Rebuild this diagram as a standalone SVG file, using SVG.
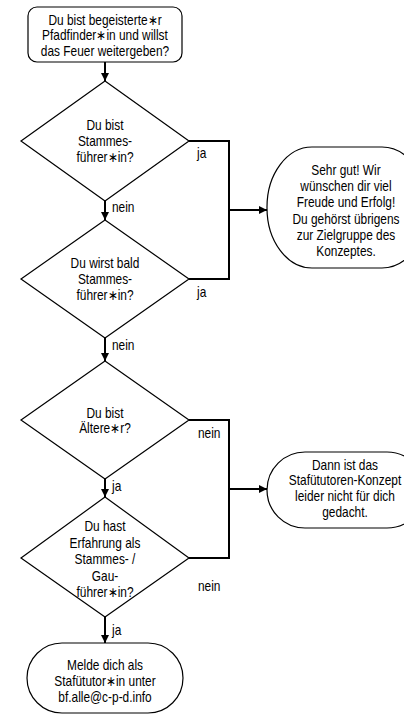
<svg xmlns="http://www.w3.org/2000/svg" width="404" height="715" viewBox="0 0 404 715">
<style>
.s{fill:#fff;stroke:#000;stroke-width:1.2}
.c{fill:none;stroke:#000;stroke-width:2}
text{font-family:"Liberation Sans",Arial,sans-serif;font-size:14px;fill:#000}
.m{text-anchor:middle}
</style>
<defs>
<marker id="ah" viewBox="0 0 10 10" refX="10" refY="5" markerWidth="4" markerHeight="4" orient="auto" markerUnits="strokeWidth">
<path d="M0,0L10,5L0,10z" fill="#000"/>
</marker>
</defs>
<rect width="404" height="715" fill="#fff"/>
<g id="connectors">
<line class="c" x1="105" y1="62" x2="105" y2="81" marker-end="url(#ah)"/>
<line class="c" x1="105" y1="201" x2="105" y2="220" marker-end="url(#ah)"/>
<line class="c" x1="105" y1="338" x2="105" y2="361" marker-end="url(#ah)"/>
<line class="c" x1="105" y1="479" x2="105" y2="497" marker-end="url(#ah)"/>
<line class="c" x1="105" y1="617" x2="105" y2="643" marker-end="url(#ah)"/>
<polyline class="c" points="189,141 229,141 229,279 189,279"/>
<line class="c" x1="229" y1="210" x2="267" y2="210" marker-end="url(#ah)"/>
<polyline class="c" points="189,420 229,420 229,558 189,558"/>
<line class="c" x1="229" y1="489" x2="267" y2="489" marker-end="url(#ah)"/>
<text x="197" y="158" transform="matrix(0.85,0,0,1,29.55,0)">ja</text>
<text x="112" y="212" transform="matrix(0.85,0,0,1,16.8,0)">nein</text>
<text x="197" y="297" transform="matrix(0.85,0,0,1,29.55,0)">ja</text>
<text x="112" y="350" transform="matrix(0.85,0,0,1,16.8,0)">nein</text>
<text x="198" y="438" transform="matrix(0.85,0,0,1,29.7,0)">nein</text>
<text x="112" y="491" transform="matrix(0.85,0,0,1,16.8,0)">ja</text>
<text x="198" y="591" transform="matrix(0.85,0,0,1,29.7,0)">nein</text>
<text x="112" y="635" transform="matrix(0.85,0,0,1,16.8,0)">ja</text>
</g>
<g id="start">
<rect class="s" x="28" y="7" width="154" height="55" rx="9"/>
<g transform="matrix(0.85,0,0,1,15.75,0)">
<text class="m" x="105" y="25">Du bist begeisterte∗r</text>
<text class="m" x="105" y="40.5">Pfadfinder∗in und willst</text>
<text class="m" x="105" y="56.5">das Feuer weitergeben?</text>
</g>
</g>
<g id="q1">
<polygon class="s" points="105,81 189,141 105,201 21,141"/>
<g transform="matrix(0.85,0,0,1,15.75,0)">
<text class="m" x="105" y="130">Du bist</text>
<text class="m" x="105" y="146">Stammes-</text>
<text class="m" x="105" y="162">führer∗in?</text>
</g>
</g>
<g id="q2">
<polygon class="s" points="105,220 189,279 105,338 21,279"/>
<g transform="matrix(0.85,0,0,1,15.75,0)">
<text class="m" x="105" y="268">Du wirst bald</text>
<text class="m" x="105" y="284">Stammes-</text>
<text class="m" x="105" y="300">führer∗in?</text>
</g>
</g>
<g id="q3">
<polygon class="s" points="105,361 189,420 105,479 21,420"/>
<g transform="matrix(0.85,0,0,1,15.75,0)">
<text class="m" x="105" y="418">Du bist</text>
<text class="m" x="105" y="433">Ältere∗r?</text>
</g>
</g>
<g id="q4">
<polygon class="s" points="105,497 189,558 105,617 21,558"/>
<g transform="matrix(0.85,0,0,1,15.75,0)">
<text class="m" x="105" y="531">Du hast</text>
<text class="m" x="105" y="548">Erfahrung als</text>
<text class="m" x="105" y="564">Stammes- /</text>
<text class="m" x="105" y="581">Gau-</text>
<text class="m" x="105" y="597">führer∗in?</text>
</g>
</g>
<g id="good">
<rect class="s" x="267" y="147" width="160" height="121" rx="45" ry="60"/>
<g transform="matrix(0.85,0,0,1,51.9,0)">
<text class="m" x="346" y="175">Sehr gut! Wir</text>
<text class="m" x="346" y="191">wünschen dir viel</text>
<text class="m" x="346" y="207">Freude und Erfolg!</text>
<text class="m" x="346" y="224">Du gehörst übrigens</text>
<text class="m" x="346" y="240">zur Zielgruppe des</text>
<text class="m" x="346" y="256">Konzeptes.</text>
</g>
</g>
<g id="notforyou">
<rect class="s" x="267" y="452" width="158" height="76" rx="38" ry="38"/>
<g transform="matrix(0.85,0,0,1,51.75,0)">
<text class="m" x="345" y="470">Dann ist das</text>
<text class="m" x="345" y="485">Stafütutoren-Konzept</text>
<text class="m" x="345" y="501">leider nicht für dich</text>
<text class="m" x="345" y="517">gedacht.</text>
</g>
</g>
<g id="signup">
<rect class="s" x="27" y="643" width="156" height="70" rx="35" ry="35"/>
<g transform="matrix(0.85,0,0,1,15.75,0)">
<text class="m" x="105" y="670">Melde dich als</text>
<text class="m" x="105" y="686">Stafütutor∗in unter</text>
<text class="m" x="105" y="702">bf.alle@c-p-d.info</text>
</g>
</g>
</svg>
